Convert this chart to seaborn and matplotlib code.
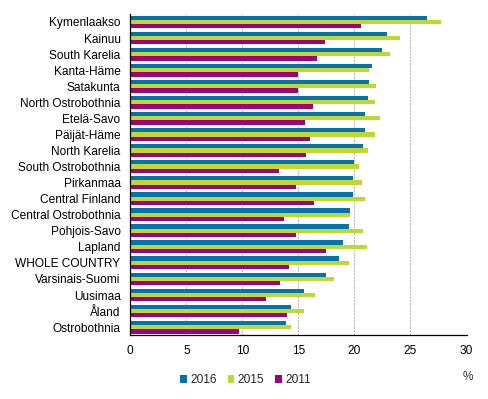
import matplotlib
matplotlib.use("Agg")
import matplotlib.pyplot as plt
import seaborn as sns
import pandas as pd

regions = ["Kymenlaakso", "Kainuu", "South Karelia", "Kanta-Häme", "Satakunta",
           "North Ostrobothnia", "Etelä-Savo", "Päijät-Häme", "North Karelia",
           "South Ostrobothnia", "Pirkanmaa", "Central Finland", "Central Ostrobothnia",
           "Pohjois-Savo", "Lapland", "WHOLE COUNTRY", "Varsinais-Suomi", "Uusimaa",
           "Åland", "Ostrobothnia"]
years = ["2016", "2015", "2011"]
v2016 = [26.5, 22.9, 22.5, 21.6, 21.3, 21.2, 20.9, 20.9, 20.8, 20.0,
         19.9, 19.9, 19.6, 19.5, 19.0, 18.6, 17.5, 15.5, 14.3, 13.9]
v2015 = [27.7, 24.1, 23.2, 21.3, 21.9, 21.8, 22.3, 21.8, 21.2, 20.4,
         20.7, 20.9, 19.6, 20.8, 21.1, 19.5, 18.2, 16.5, 15.5, 14.3]
v2011 = [20.6, 17.4, 16.7, 15.0, 15.0, 16.3, 15.6, 16.0, 15.7, 13.3,
         14.8, 16.4, 13.7, 14.8, 17.5, 14.2, 13.4, 12.1, 14.0, 9.7]
colors = ["#0073B0", "#BFD730", "#A0007F"]

df = pd.DataFrame({
    "region": regions * 3,
    "year": [years[0]] * 20 + [years[1]] * 20 + [years[2]] * 20,
    "value": v2016 + v2015 + v2011,
})

sns.set_style("white")
plt.rcParams["font.family"] = ["Liberation Sans", "DejaVu Sans"]
FS = 8.6

fig = plt.figure(figsize=(4.88, 3.99), dpi=100)
ax = fig.add_axes([0.267, 0.160, 0.689, 0.805])
sns.barplot(data=df, y="region", x="value", hue="year", hue_order=years,
            order=regions, palette=colors, orient="h", width=0.8,
            saturation=1, ax=ax, legend=True)
for p in ax.patches:
    p.set_edgecolor("none")

ax.set_xlim(0, 30)
ax.set_ylim(len(regions) - 0.5, -0.5)
ax.set_xticks(range(0, 31, 5))
ax.set_xlabel("")
ax.set_ylabel("")
ax.tick_params(axis="y", labelsize=FS, length=0, colors="#000000", pad=7)
ax.tick_params(axis="x", labelsize=FS, length=0, colors="#000000", pad=7)
ax.xaxis.grid(True, color="#BBBBBB", linestyle=(0, (2, 1)), linewidth=0.8)
ax.yaxis.grid(False)
ax.set_axisbelow(True)
for s in ["top", "right"]:
    ax.spines[s].set_visible(False)
for s in ["left", "bottom"]:
    ax.spines[s].set_color("black")
    ax.spines[s].set_linewidth(0.9)

handles, labels = ax.get_legend_handles_labels()
ax.legend_.remove()
fig.legend(handles, labels, loc="center", bbox_to_anchor=(0.503, 0.047), ncol=3,
           frameon=False, fontsize=FS, handlelength=0.55, handleheight=0.55,
           handletextpad=0.3, columnspacing=0.9)
fig.text(0.959, 0.055, "%", fontsize=FS, ha="center", va="center", color="#333333")

fig.savefig("out.png", dpi=100)
